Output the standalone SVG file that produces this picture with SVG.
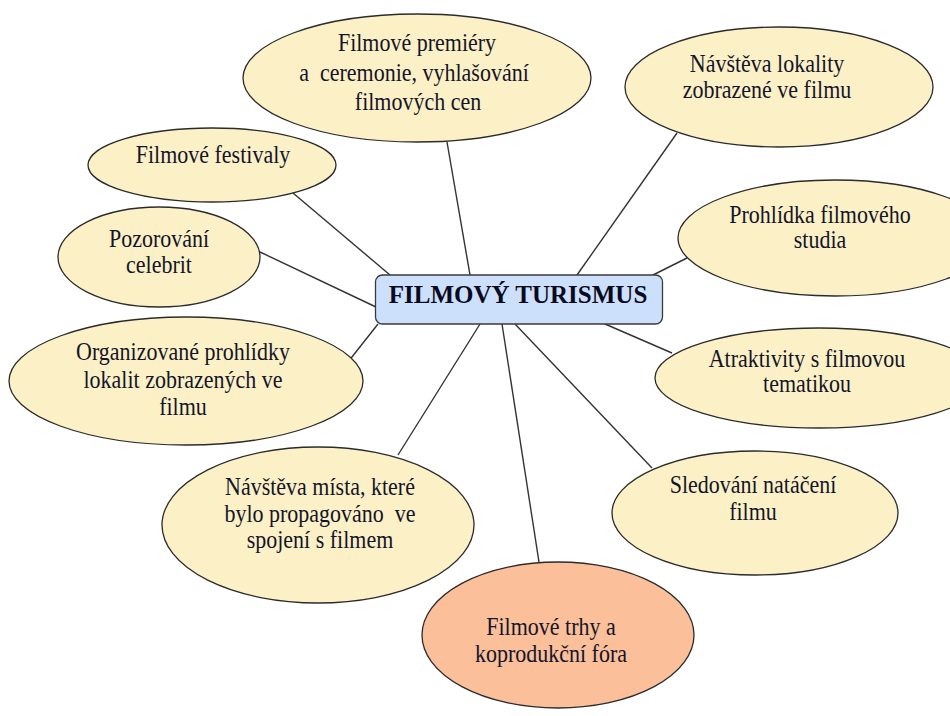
<svg xmlns="http://www.w3.org/2000/svg" width="950" height="716" viewBox="0 0 950 716">
<style>
.n{fill:#fcf1c6;stroke:#2b2b2b;stroke-width:1.3}
.p{fill:#fbbf9a;stroke:#2b2b2b;stroke-width:1.3}
.c{fill:#cde0fb;stroke:#3a3a3a;stroke-width:1.3}
.t{font-family:"Liberation Serif","Times New Roman",serif;font-size:22px;fill:#14142a;text-anchor:middle}
.h{font-family:"Liberation Serif","Times New Roman",serif;font-size:25px;font-weight:bold;fill:#0a0a1e;text-anchor:middle}
.l{stroke:#333;stroke-width:1.4;fill:none}
</style>
<rect width="950" height="716" fill="#fff"/>
<g id="connectors">
<line class="l" x1="447" y1="142" x2="470" y2="275"/>
<line class="l" x1="677" y1="133" x2="577" y2="275"/>
<line class="l" x1="293" y1="193" x2="390" y2="275"/>
<line class="l" x1="260" y1="252" x2="376" y2="307"/>
<line class="l" x1="687" y1="258" x2="653" y2="275"/>
<line class="l" x1="348" y1="362" x2="378" y2="324"/>
<line class="l" x1="672" y1="353" x2="605" y2="324"/>
<line class="l" x1="398" y1="455" x2="480" y2="324"/>
<line class="l" x1="652" y1="468" x2="515" y2="324"/>
<line class="l" x1="539" y1="562" x2="502" y2="324"/>
</g>
<g id="premiery">
<ellipse class="n" cx="417" cy="78" rx="174" ry="64"/>
<text class="t" transform="translate(417 51) scale(1 1.12)">Filmové premiéry</text>
<text class="t" transform="translate(414 81) scale(1 1.12)" xml:space="preserve">a  ceremonie, vyhlašování</text>
<text class="t" transform="translate(418 110) scale(1 1.12)">filmových cen</text>
</g>
<g id="lokality">
<ellipse class="n" cx="779" cy="87" rx="154" ry="60"/>
<text class="t" transform="translate(767 72) scale(1 1.12)">Návštěva lokality</text>
<text class="t" transform="translate(767 98) scale(1 1.12)">zobrazené ve filmu</text>
</g>
<g id="festivaly">
<ellipse class="n" cx="212" cy="165" rx="124" ry="37"/>
<text class="t" transform="translate(213 163) scale(1 1.12)">Filmové festivaly</text>
</g>
<g id="celebrity">
<ellipse class="n" cx="159" cy="257" rx="101" ry="50"/>
<text class="t" transform="translate(159 247) scale(1 1.12)">Pozorování</text>
<text class="t" transform="translate(159 273) scale(1 1.12)">celebrit</text>
</g>
<g id="studio">
<ellipse class="n" cx="835" cy="238" rx="157" ry="58"/>
<text class="t" transform="translate(820 223) scale(1 1.12)">Prohlídka filmového</text>
<text class="t" transform="translate(820 248) scale(1 1.12)">studia</text>
</g>
<g id="organizovane">
<ellipse class="n" cx="186" cy="381" rx="177" ry="64"/>
<text class="t" transform="translate(183 360) scale(1 1.12)">Organizované prohlídky</text>
<text class="t" transform="translate(183 388) scale(1 1.12)">lokalit zobrazených ve</text>
<text class="t" transform="translate(183 415) scale(1 1.12)">filmu</text>
</g>
<g id="atraktivity">
<ellipse class="n" cx="819" cy="378" rx="164" ry="50"/>
<text class="t" transform="translate(807 367) scale(1 1.12)">Atraktivity s filmovou</text>
<text class="t" transform="translate(807 392) scale(1 1.12)">tematikou</text>
</g>
<g id="mista">
<ellipse class="n" cx="318" cy="525" rx="156" ry="78"/>
<text class="t" transform="translate(320 495) scale(1 1.12)">Návštěva místa, které</text>
<text class="t" transform="translate(320 522) scale(1 1.12)" xml:space="preserve">bylo propagováno  ve</text>
<text class="t" transform="translate(320 548) scale(1 1.12)">spojení s filmem</text>
</g>
<g id="nataceni">
<ellipse class="n" cx="755" cy="513" rx="143" ry="62"/>
<text class="t" transform="translate(753 493) scale(1 1.12)">Sledování natáčení</text>
<text class="t" transform="translate(753 520) scale(1 1.12)">filmu</text>
</g>
<g id="trhy">
<ellipse class="p" cx="558" cy="635" rx="136" ry="73"/>
<text class="t" transform="translate(551 635) scale(1 1.12)">Filmové trhy a</text>
<text class="t" transform="translate(551 662) scale(1 1.12)">koprodukční fóra</text>
</g>
<g id="center">
<rect class="c" x="375.5" y="275" width="287" height="49" rx="7"/>
<text class="h" x="518" y="303">FILMOVÝ TURISMUS</text>
</g>
</svg>
